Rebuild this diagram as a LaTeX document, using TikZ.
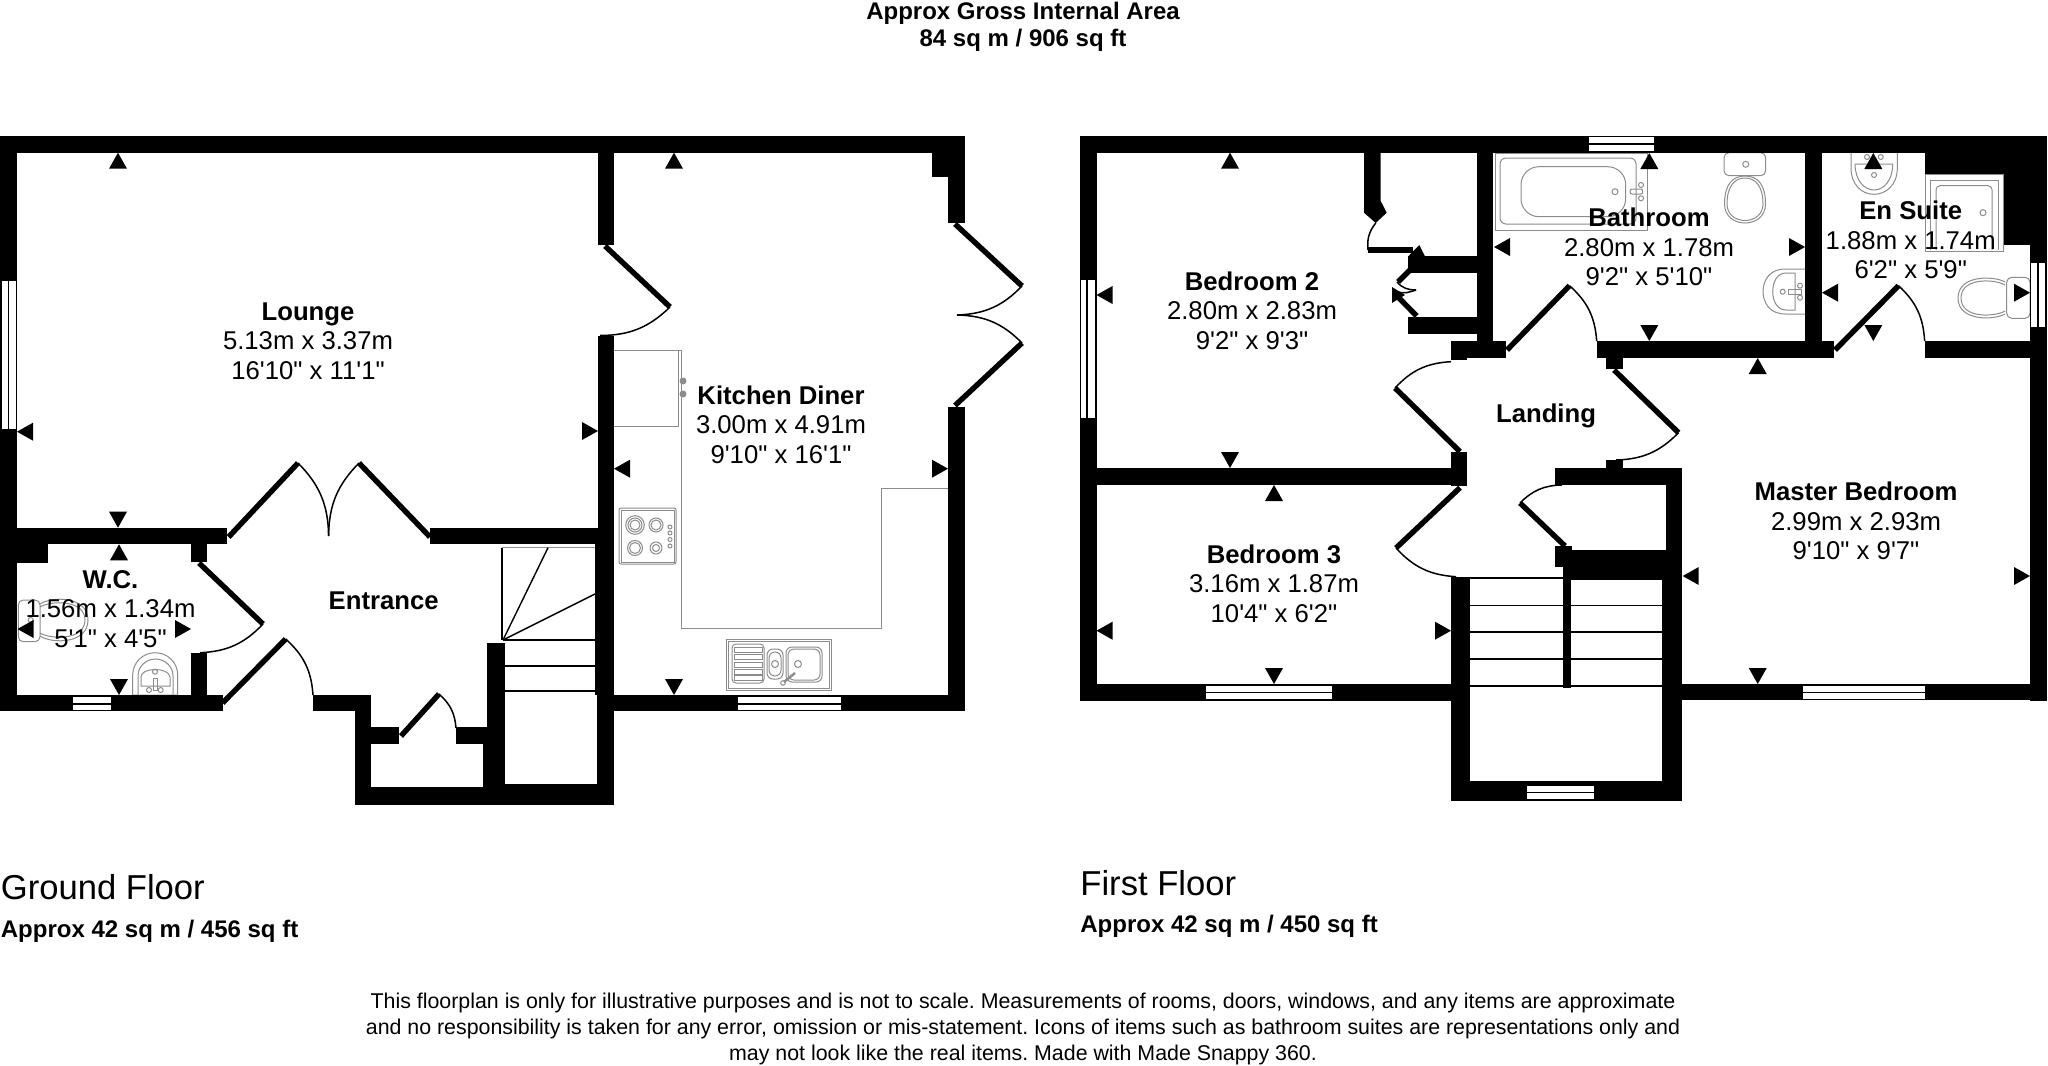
\documentclass[tikz,border=0pt]{standalone}
\usepackage{fontspec}
\setmainfont{Liberation Sans}[Ligatures=TeXOff]
\frenchspacing
\definecolor{fixgray}{HTML}{8C8C8C}
\newcommand\wl[4]{\fill[black] (#1,#2) rectangle (#3,#4);}
\newcommand\glass[4]{\fill[white] (#1,#2) rectangle (#3,#4);}
\newcommand\mU[2]{\fill[black] (#1,#2) -- ({#1+9},{#2+16}) -- ({#1-9},{#2+16}) -- cycle;}
\newcommand\mD[2]{\fill[black] (#1,#2) -- ({#1+9},{#2-16}) -- ({#1-9},{#2-16}) -- cycle;}
\newcommand\mL[2]{\fill[black] (#1,#2) -- ({#1+16},{#2+9}) -- ({#1+16},{#2-9}) -- cycle;}
\newcommand\mR[2]{\fill[black] (#1,#2) -- ({#1-16},{#2+9}) -- ({#1-16},{#2-9}) -- cycle;}
\newcommand\room[6]{%
 \node[titletext] (#1-a) at (#2,#3) {#4};
 \node[roomtext] (#1-b) at (#2,{#3+29.5}) {#5};
 \node[roomtext] (#1-c) at (#2,{#3+59}) {#6};}
\tikzset{
 x=0.5pt,y=-0.5pt,
 leaf/.style={line width=2.7pt,black,line cap=butt},
 swing/.style={line width=0.75pt,black},
 fx/.style={draw=fixgray,line width=0.5pt},
 tread/.style={line width=0.7pt,black},
 titletext/.style={anchor=base,inner sep=0,font=\fontsize{12.85}{15}\selectfont\bfseries},
 roomtext/.style={anchor=base,inner sep=0,font=\fontsize{12.85}{15}\selectfont},
 headtext/.style={anchor=base,inner sep=0,font=\fontsize{12}{14}\selectfont\bfseries},
 floortext/.style={anchor=base west,inner sep=0,font=\fontsize{17.3}{20}\selectfont},
 notetext/.style={anchor=base,inner sep=0,font=\fontsize{10.68}{13}\selectfont},
}
\begin{document}
\begin{tikzpicture}
\useasboundingbox (0,0) rectangle (2048,1065);
\fill[white] (0,0) rectangle (2048,1065);

% ---------- fixtures, ground floor ----------
\draw[fx] (614,350) -- (681,350) -- (681,628) -- (881,628) -- (881,488.6) -- (948,488.6);
\draw[fx] (614,426) -- (678,426) -- (678,350);
\fill[fixgray] (683,381) circle (3.5) (683,394) circle (3.5);
\draw[fx,rounded corners=1pt] (619,508) rectangle (676,564);
\draw[fx] (621,510) rectangle (674,562);
\draw[fx] (635,525) circle (9.3) (635,525) circle (7) (635,525) circle (5);
\draw[fx] (656,525) circle (7) (656,525) circle (5);
\draw[fx] (635,548) circle (7.5) (635,548) circle (5.5);
\draw[fx] (656,548) circle (6) (656,548) circle (3.5);
\draw[fx] (670,527) circle (2) (670,533) circle (2) (670,539.5) circle (2) (670,546) circle (2);
\draw[fx] (726,639) rectangle (831,690) (728,641) rectangle (829,688);
\draw[fx,rounded corners=2pt] (732,644) rectangle (764,683);
\draw[fx] (734,647) rectangle (762,652) (734,654.5) rectangle (762,659.5) (734,662) rectangle (762,667) (734,669) rectangle (762,674) (734,675.5) rectangle (762,680.5);
\draw[fx,rounded corners=3pt] (767,649) rectangle (783,679) (769,652) rectangle (781,676);
\draw[fx] (775,664) circle (3.5);
\draw[fx,rounded corners=3pt] (786,647) rectangle (822,682) (788,649) rectangle (820,680);
\draw[fx] (798,664) circle (3.5);
\draw[fx] (783,683) circle (2.3);
\draw[fixgray,line width=1.2pt] (784,682) -- (795,673);
% W.C. fixtures
\draw[fx,rounded corners=2.5pt] (18.3,600) rectangle (40,641.7);
\draw[fx] (40,604) .. controls (52,596) and (88,596) .. (88,620) .. controls (88,644) and (52,644) .. (40,636);
\draw[fx] (40,607) .. controls (52,600) and (85,600) .. (85,620) .. controls (85,640) and (52,640) .. (40,633);
\draw[fx] (30.7,620) circle (2.5);
\draw[fx] (132.7,695) -- (132.7,675) .. controls (132.7,662.7) and (142.6,652.7) .. (155.2,652.7) .. controls (167.8,652.7) and (177.7,662.7) .. (177.7,675) -- (177.7,695) -- cycle;
\draw[fx] (138,695) -- (138,676) .. controls (138,666.6) and (145.8,659) .. (155.5,659) .. controls (165.2,659) and (173,666.6) .. (173,676) -- (173,695);
\draw[fx] (141,686) -- (141,677) .. controls (141,667) and (169,667) .. (170,677) -- (170,686) -- cycle;
\draw[fx] (155,671.7) circle (2.5);
\draw[fx] (153,678) rectangle (157,690);
\draw[fx] (149,690) circle (2.5) (160.7,690) circle (2.5);

% ---------- fixtures, first floor ----------
\draw[fx] (1495,153) rectangle (1647,230);
\draw[fx,rounded corners=3pt] (1500,158) rectangle (1636,224);
\draw[fx,rounded corners=9pt] (1521,166.7) rectangle (1625.7,216.7);
\draw[fx] (1615,191.7) circle (3);
\draw[fx,rounded corners=1pt] (1630,189) rectangle (1642.7,194);
\draw[fx] (1641,185) circle (2.5) (1641,198.3) circle (2.5);
\draw[fx,rounded corners=2.5pt] (1724,152.7) rectangle (1765.7,175.7);
\draw[fx] (1745.7,164.3) circle (3);
\draw[fx] (1724.5,204) .. controls (1724.5,185) and (1732,176) .. (1745,176) .. controls (1758,176) and (1765.5,185) .. (1765.5,204) .. controls (1765.5,216) and (1756,223) .. (1745,223) .. controls (1734,223) and (1724.5,216) .. (1724.5,204) -- cycle;
\draw[fx] (1727,204) .. controls (1727,187) and (1734,178) .. (1745,178) .. controls (1756,178) and (1763,187) .. (1763,204) .. controls (1763,214) and (1755,220.5) .. (1745,220.5) .. controls (1735,220.5) and (1727,214) .. (1727,204) -- cycle;
\draw[fx] (1805,269) -- (1785,269) .. controls (1770,269) and (1763,280) .. (1763,291.5) .. controls (1763,303) and (1770,314) .. (1785,314) -- (1805,314);
\draw[fx] (1795,273) -- (1786,273) .. controls (1777,273) and (1772.7,282) .. (1772.7,291.5) .. controls (1772.7,301) and (1777,310) .. (1786,310) -- (1795,310) -- cycle;
\draw[fx] (1782.7,291.7) circle (2.5);
\draw[fx] (1788,289) rectangle (1801,294);
\draw[fx] (1800,285.7) circle (2.5) (1800,297.7) circle (2.5);
\draw[fx] (1925.7,174) rectangle (2003,251);
\draw[fx] (1930.7,250) -- (1930.7,180.7) -- (1998.3,180.7) -- (1998.3,250);
\draw[fx,rounded corners=2pt] (1936,250) -- (1936,185.7) -- (1992,185.7) -- (1992,250);
\draw[fx] (1983,212.7) circle (3);
\draw[fx] (1851,152.7) -- (1851,168) .. controls (1851,185) and (1862,194.3) .. (1874,194.3) .. controls (1886,194.3) and (1897.3,185) .. (1897.3,168) -- (1897.3,152.7);
\draw[fx] (1855,164) -- (1892.7,164) .. controls (1892.7,180) and (1884,190) .. (1874,190) .. controls (1864,190) and (1855,180) .. (1855,164) -- cycle;
\draw[fx] (1874,175) circle (2.5) (1867,157) circle (2.5) (1880.7,157) circle (2.5);
\draw[fx,rounded corners=2.5pt] (2006.7,277.3) rectangle (2030,318.3);
\draw[fx] (2005,282) .. controls (1995,276) and (1958,274) .. (1958,298) .. controls (1958,322) and (1995,320) .. (2005,314);
\draw[fx] (2005,285) .. controls (1995,279) and (1961,277) .. (1961,298) .. controls (1961,319) and (1995,317) .. (2005,311);

% ---------- walls, ground floor ----------
\wl{0}{136}{965}{152.7}
\wl{0}{136}{17}{711}
\wl{0}{527.7}{227}{544.3}
\wl{0}{527.7}{48}{562.7}
\wl{191}{527.7}{207}{562}
\wl{191}{652.7}{207}{711}
\wl{0}{695}{222.5}{711}
\wl{313}{695}{371}{711}
\wl{355}{695}{371}{804.5}
\wl{355}{787}{614}{804.5}
\wl{371}{727}{399}{744}
\wl{456}{727}{486.5}{744}
\wl{486.5}{643}{505}{790}
\wl{483}{744}{505}{790}
\wl{505}{784}{614}{804.5}
\wl{430}{527.7}{614}{544.3}
\wl{598}{136}{614}{245}
\wl{598}{335.5}{614}{804.5}
\wl{595}{544}{614}{695}
\wl{597}{695}{614}{804.5}
\wl{598}{695}{965}{711}
\wl{932}{136}{965}{176.7}
\wl{948}{136}{965}{223}
\wl{948}{407}{965}{711}
% ---------- walls, first floor ----------
\wl{1080}{136}{2047}{152.7}
\wl{1080}{136}{1096.5}{700.7}
\wl{1096}{468}{1451}{485}
\wl{1451}{451.7}{1467}{486}
\wl{1080}{684}{1470}{700.7}
\wl{1451}{576.7}{1470}{800.7}
\wl{1451}{780.7}{1682}{800.7}
\wl{1662}{580}{1682}{800.7}
\wl{1666}{468}{1682}{600}
\wl{1555}{468}{1682}{485}
\wl{1606}{460}{1623}{470}
\wl{1563}{550}{1682}{580}
\wl{1555}{546}{1572}{566.7}
\wl{1562.6}{580}{1571}{688}
\wl{1682}{684}{2047}{700.3}
\wl{2030}{136}{2047}{700.7}
\wl{1925}{136}{2047}{174}
\wl{2003.5}{136}{2047}{245}
\wl{1925}{341}{2047}{358}
\wl{1477}{136}{1493}{357.7}
\wl{1451}{341}{1506}{357.7}
\wl{1451}{341}{1467}{360}
\wl{1596.7}{341}{1834}{357.7}
\wl{1606}{341}{1623}{369}
\wl{1805}{136}{1821.7}{357.7}
\wl{1408}{256}{1477}{272.7}
\wl{1408}{317.3}{1477}{334}
\fill[black] (1364,136) -- (1380.7,136) -- (1380.7,201) -- (1386.7,212.7) -- (1375.7,223) -- (1364,212.7) -- cycle;
\fill[black] (1419.3,245) -- (1425,256.5) -- (1408,256.5) -- cycle;
\wl{1368}{247.3}{1413}{253.3}

% ---------- windows ----------
\glass{2.3}{281}{8.3}{429} \glass{9.3}{281}{15.7}{429}
\glass{73}{697}{110.6}{703} \glass{73}{704.7}{110.6}{710}
\glass{738}{697}{841}{703} \glass{738}{704.7}{841}{710}
\glass{1081}{280}{1085.7}{418} \glass{1088}{280}{1095}{418}
\glass{1588.7}{137}{1654}{143} \glass{1588.7}{145}{1654}{151}
\glass{1206}{686}{1331.6}{692} \glass{1206}{693.3}{1331.6}{699}
\glass{1803.3}{685.7}{1925}{692} \glass{1803.3}{693.3}{1925}{698.7}
\glass{1527}{785.7}{1593.7}{791.7} \glass{1527}{793.3}{1593.7}{799.3}
\glass{2031}{263.3}{2037.3}{327.3} \glass{2039}{263.3}{2045}{327.3}

% ---------- door leaves and swings ----------
\draw[leaf] (228.6,537) -- (298,463);
\draw[leaf] (430,537) -- (359,463);
\draw[swing] (298,463) to[bend left=22] (328.6,536);
\draw[swing] (359,463) to[bend right=22] (328.6,536);
\draw[leaf] (199,563) -- (263,624);
\draw[swing] (263,624) to[bend left=22] (200,652.7);
\draw[leaf] (222.5,703) -- (285.7,639);
\draw[swing] (285.7,639) to[bend left=22] (313,695);
\draw[leaf] (401,736) -- (439,694);
\draw[swing] (439,694) to[bend left=22] (456,728);
\draw[leaf] (605,246) -- (670,307);
\draw[swing] (670,307) to[bend left=22] (600,335.5);
\draw[leaf] (955,224) -- (1022,286);
\draw[leaf] (955,405.5) -- (1022,343);
\draw[swing] (1022,286) to[bend left=22] (957,315);
\draw[swing] (1022,343) to[bend right=22] (957,315);
\draw[leaf] (1507,350) -- (1569.5,285.7);
\draw[swing] (1569.5,285.7) to[bend left=22] (1596.7,341);
\draw[leaf] (1835,350) -- (1898.5,285.7);
\draw[swing] (1898.5,285.7) to[bend left=22] (1924.6,341);
\draw[leaf] (1614,370) -- (1678.5,432.7);
\draw[swing] (1678.5,432.7) to[bend left=22] (1616,460);
\draw[leaf] (1395,388) -- (1460,451.7);
\draw[swing] (1395,388) to[bend left=22] (1451,361.7);
\draw[leaf] (1460,487.7) -- (1396,548);
\draw[swing] (1396,548) to[bend right=22] (1456,576.7);
\draw[leaf] (1565,546) -- (1520,503);
\draw[swing] (1520,503) to[bend left=22] (1562,485);
\draw[swing] (1375.7,223) to[bend right=22] (1368,250);
\draw[leaf] (1410,270) -- (1398,282);
\draw[leaf] (1398,297) -- (1416.7,316);
\draw[swing] (1397,282) .. controls (1402,288) and (1408,290) .. (1416,290);
\draw[swing] (1398,292) .. controls (1404,294) and (1410,292) .. (1416,290);

% ---------- stairs ----------
\draw[tread] (502,547.7) -- (502,640);
\draw[fx] (502,547.7) -- (595,547.7);
\draw[tread] (503,640) -- (548,547.7);
\draw[tread] (503,640) -- (595,594);
\foreach \ty in {640,666,691} {\draw[tread] (503,\ty) -- (595,\ty);}
\draw[tread] (1470,578) -- (1563,578);
\foreach \ty in {605.7,632,659,686} {\draw[tread] (1470,\ty) -- (1662,\ty);}

% ---------- dimension markers ----------
\mU{118}{152.7} \mL{17}{431.7} \mD{118}{527.7} \mR{598}{431}
\mU{119}{544.3} \mL{17.5}{629} \mR{191}{629} \mD{119}{695}
\mU{674}{152.7} \mD{674}{695} \mL{614}{468.7} \mR{948}{468.7}
\mU{1230}{152.7} \mL{1096.5}{295} \mD{1230}{468}
\fill[black] (1392,287) -- (1405,295) -- (1392,303) -- cycle;
\mU{1274}{485} \mL{1096.5}{630.7} \mR{1451}{630.7} \mD{1274}{684}
\mU{1649.3}{153} \mD{1649.3}{341} \mL{1494}{247} \mR{1805}{247}
\mU{1873.3}{153} \mD{1873.3}{341} \mL{1822}{292.7} \mR{2030}{292.7}
\mU{1757.7}{358} \mD{1757.7}{684} \mL{1682.7}{576} \mR{2030}{576}

% ---------- room labels ----------
\room{lounge}{308}{320}{Lounge}{5.13m x 3.37m}{16'10" x 11'1"}
\room{kitchen}{781}{404}{Kitchen Diner}{3.00m x 4.91m}{9'10" x 16'1"}
\room{wc}{110.5}{588}{W.C.}{1.56m x 1.34m}{5'1" x 4'5"}
\room{bedtwo}{1252}{290}{Bedroom 2}{2.80m x 2.83m}{9'2" x 9'3"}
\room{bedthree}{1274}{563.3}{Bedroom 3}{3.16m x 1.87m}{10'4" x 6'2"}
\room{bath}{1649}{226.5}{Bathroom}{2.80m x 1.78m}{9'2" x 5'10"}
\room{ensuite}{1910.7}{219.5}{En Suite}{1.88m x 1.74m}{6'2" x 5'9"}
\room{master}{1856}{500.7}{Master Bedroom}{2.99m x 2.93m}{9'10" x 9'7"}
\node[titletext] (entrance) at (383.7,609) {Entrance};
\node[titletext] (landing) at (1546,422.3) {Landing};

% ---------- captions ----------
\node[headtext] (head1) at (1023,19.5) {Approx Gross Internal Area};
\node[headtext] (head2) at (1023,47) {84 sq m / 906 sq ft};
\node[floortext] (gf) at (0.5,899) {Ground Floor};
\node[headtext,anchor=base west] (gfa) at (0.5,937) {Approx 42 sq m / 456 sq ft};
\node[floortext] (ff) at (1080,895) {First Floor};
\node[headtext,anchor=base west] (ffa) at (1080,932.5) {Approx 42 sq m / 450 sq ft};
\node[notetext] (n1) at (1023,1008) {This floorplan is only for illustrative purposes and is not to scale. Measurements of rooms, doors, windows, and any items are approximate};
\node[notetext] (n2) at (1023,1034) {and no responsibility is taken for any error, omission or mis-statement. Icons of items such as bathroom suites are representations only and};
\node[notetext] (n3) at (1023,1060) {may not look like the real items. Made with Made Snappy 360.};
\end{tikzpicture}
\end{document}
